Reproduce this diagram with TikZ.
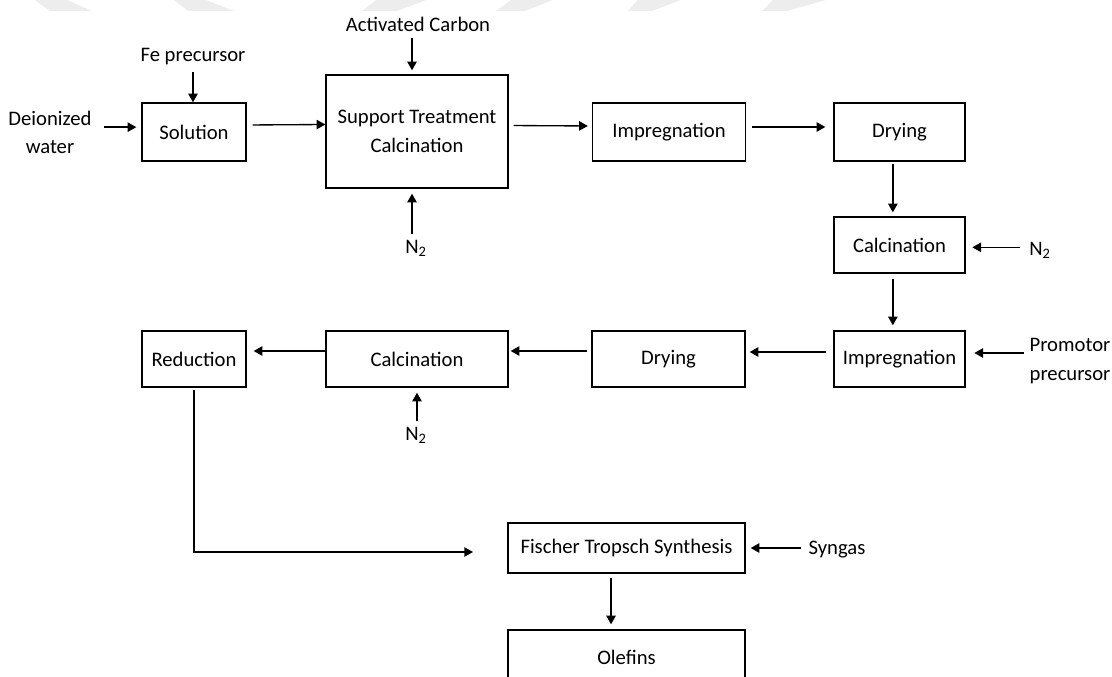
\documentclass[tikz,border=0pt]{standalone}
\usepackage{fontspec}
\setmainfont{Carlito}
\usetikzlibrary{arrows.meta}

\tikzset{
	stage/.style={draw, line width=1pt, inner sep=0pt, align=center},
	feed/.style={inner sep=1pt, align=center},
	flow/.style={line width=1pt, -{Triangle[length=6.5pt,width=7pt]}},
	wmark/.style={fill=black!7, draw=none}
}

\begin{document}
\begin{tikzpicture}[x=0.75pt, y=-0.75pt, font=\fontsize{15.5}{21.5}\selectfont]
	\useasboundingbox (0,0) rectangle (1112,677);
	\clip (0,0) rectangle (1112,677);

	% faint watermark along the top edge
	\path[wmark] (35,0) -- (67,0) -- (92,11) -- (50,11) -- cycle;
	\path[wmark] (174,0) -- (206,0) -- (234,11) -- (188,11) -- cycle;
	\path[wmark] (376,0) -- (426,0) -- (397,11) -- (362,11) -- cycle;
	\path[wmark] (511,0) -- (553,0) -- (525,11) -- (496,11) -- cycle;
	\path[wmark] (638,0) -- (681,0) -- (652,11) -- (628,11) -- cycle;
	\path[wmark] (773,0) -- (826,0) -- (787,11) -- (762,11) -- cycle;

	% process steps
	\node[stage, minimum width=78pt, minimum height=43.5pt] (sol) at (194,132) {Solution};
	\node[stage, minimum width=136.5pt, minimum height=84.75pt] (sup) at (417,131.5) {Support Treatment\\Calcination};
	\node[stage, minimum width=114.75pt, minimum height=43.5pt] (imp1) at (669,132) {Impregnation};
	\node[stage, minimum width=98.25pt, minimum height=43.5pt] (dry1) at (899.5,132) {Drying};
	\node[stage, minimum width=98.25pt, minimum height=42pt] (calc1) at (899.5,245) {Calcination};
	\node[stage, minimum width=98.25pt, minimum height=42pt] (imp2) at (899.5,359) {Impregnation};
	\node[stage, minimum width=114.75pt, minimum height=42pt] (dry2) at (668.5,359) {Drying};
	\node[stage, minimum width=136.5pt, minimum height=42pt] (calc2) at (417,359) {Calcination};
	\node[stage, minimum width=78pt, minimum height=42pt] (red) at (194,359) {Reduction};
	\node[stage, minimum width=177.75pt, minimum height=37.5pt] (fts) at (626.5,548) {Fischer Tropsch Synthesis};
	\node[stage, minimum width=177.75pt, minimum height=40.5pt] (ole) at (626.5,657) {Olefins};

	% feeds
	\node[feed] (dw) at (50,132.5) {Deionized\\water};
	\node[feed] (fe) at (193,57) {Fe precursor};
	\node[feed] (ac) at (418,24) {Activated Carbon};
	\node[feed] (n2a) at (416,248) {N\textsubscript{2}};
	\node[feed] (n2b) at (1040,250) {N\textsubscript{2}};
	\node[feed] (prom) at (1070,361) {Promotor\\precursor};
	\node[feed] (n2c) at (416,435) {N\textsubscript{2}};
	\node[feed] (syn) at (837,550) {Syngas};

	\coordinate (ftsin) at (473,552);

	% main line
	\draw[flow, shorten <=4.5pt] ([yshift=5.25pt]sol.east) -- ([yshift=5.25pt]sup.west);
	\draw[flow, shorten <=3.75pt, shorten >=3pt] ([yshift=4.5pt]sup.east) -- ([yshift=4.5pt]imp1.west);
	\draw[flow, shorten <=4.5pt, shorten >=6pt] ([yshift=3.75pt]imp1.east) -- ([yshift=3.75pt]dry1.west);
	\draw[flow, shorten <=1.5pt, shorten >=3pt] ([xshift=-5pt]dry1.south) -- ([xshift=-5pt]calc1.north);
	\draw[flow, shorten <=3.75pt, shorten >=3.75pt] ([xshift=-5pt]calc1.south) -- ([xshift=-5pt]imp2.north);
	\draw[flow, shorten <=5.5pt, shorten >=3pt] ([yshift=5.25pt]imp2.west) -- ([yshift=5.25pt]dry2.east);
	\draw[flow, shorten <=3pt, shorten >=1.5pt] ([yshift=6pt]dry2.west) -- ([yshift=6pt]calc2.east);
	\draw[flow, shorten >=5.25pt] ([yshift=6pt]calc2.west) -- ([yshift=6pt]red.east);
	\draw[flow, shorten <=2pt] (red.south) |- (ftsin);
	\draw[flow, shorten <=3pt, shorten >=3.75pt] ([xshift=-11.6pt]fts.south) -- ([xshift=-11.6pt]ole.north);

	% inputs
	\draw[flow, shorten <=8.5pt, shorten >=3.75pt] ([yshift=4pt]dw.east) -- ([yshift=4pt]dw.east -| sol.west);
	\draw[flow, shorten <=3.75pt] (fe.south) -- (fe.south |- sol.north);
	\draw[flow, shorten <=3.75pt, shorten >=3pt] ([xshift=-4.5pt]ac.south) -- ([xshift=-4.5pt]ac.south |- sup.north);
	\draw[flow, shorten <=3pt, shorten >=3.75pt] ([xshift=-3pt]n2a.north) -- ([xshift=-3pt]n2a.north |- sup.south);
	\draw[flow, shorten <=6pt, shorten >=5pt] ([yshift=2pt]n2b.west) -- ([yshift=2pt]n2b.west -| calc1.east);
	\draw[flow, shorten <=3pt, shorten >=6.5pt] ([yshift=6pt]prom.west) -- ([yshift=6pt]prom.west -| imp2.east);
	\draw[flow, shorten <=3pt, shorten >=3.75pt] ([xshift=0.75pt]n2c.north) -- ([xshift=0.75pt]n2c.north |- calc2.south);
	\draw[flow, shorten <=4.5pt, shorten >=3.75pt] ([yshift=1.5pt]syn.west) -- ([yshift=1.5pt]syn.west -| fts.east);
\end{tikzpicture}
\end{document}
